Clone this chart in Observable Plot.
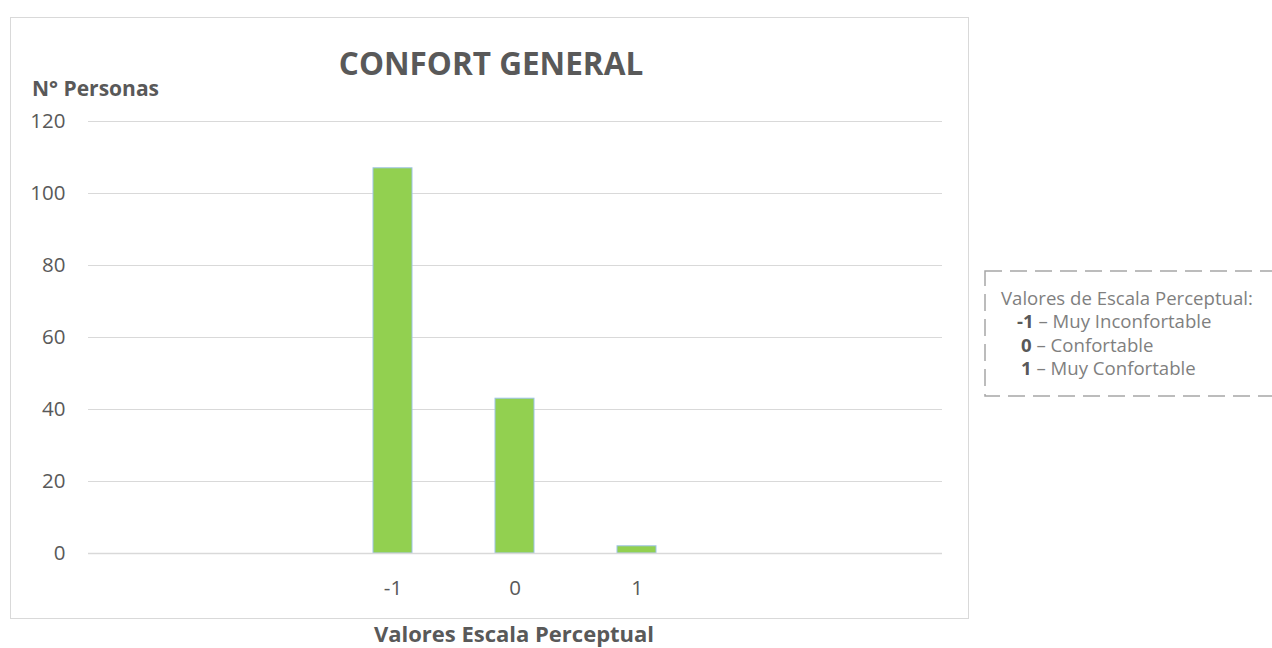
<!DOCTYPE html>
<html>
<head>
<meta charset="utf-8">
<script src="https://cdn.jsdelivr.net/npm/d3@7"></script>
<script src="https://cdn.jsdelivr.net/npm/@observablehq/plot@0.6"></script>
<style>
  html, body { margin: 0; padding: 0; background: #fff; }
  #wrap { position: relative; width: 1272px; height: 648px; overflow: hidden; font-family: "Open Sans", sans-serif; color: #595959; }
  #chart { position: absolute; left: 0; top: 0; }
  .abs { position: absolute; white-space: nowrap; }
  #frame { position: absolute; left: 10px; top: 17px; width: 959px; height: 602px; border: 1.5px solid #d9d9d9; box-sizing: border-box; }
  #legendBox { position: absolute; left: 0; top: 0; }
</style>
</head>
<body>
<div id="wrap">
  <div id="frame"></div>
  <div id="chart"></div>
  <div class="abs" id="title" style="left:491px; top:41px; transform:translateX(-50%); font-size:31.5px; font-weight:700;">CONFORT GENERAL</div>
  <div class="abs" id="ylab" style="left:32px; top:74px; font-size:21px; font-weight:700;">N° Personas</div>
  <div class="abs" id="xlab" style="left:514px; top:619px; transform:translateX(-50%); font-size:22px; font-weight:700; line-height:1.36;">Valores Escala Perceptual</div>
  <svg id="legendBox" width="1272" height="648"><rect x="985" y="271" width="320" height="125" fill="none" stroke="#a6a6a6" stroke-width="1.5" stroke-dasharray="17 8"></rect></svg>
  <div class="abs" id="legtext" style="left:1001px; top:286px; font-size:18.6px; line-height:23.3px; color:#7f7f7f;"></div>
</div>
<script>
// Data
const axisCategories = ["-3", "-2", "-1", "0", "1", "2", "3"];
const labeledCategories = ["-1", "0", "1"];
const categories = ["-1", "0", "1"];
const counts = [107, 43, 2];
const yTicks = [0, 20, 40, 60, 80, 100, 120];
const legendTitle = "Valores de Escala Perceptual:";
const legendKeys = ["-1", "0", "1"];
const legendLabels = ["Muy Inconfortable", "Confortable", "Muy Confortable"];

const data = categories.map((c, i) => ({cat: c, n: counts[i]}));

const chart = Plot.plot({
  width: 1272,
  height: 648,
  marginLeft: 88,
  marginRight: 330,
  marginTop: 121,
  marginBottom: 95,
  style: {fontFamily: "Open Sans, sans-serif", color: "#595959", background: "transparent"},
  x: {domain: axisCategories, paddingInner: 0.68, paddingOuter: 0.34, align: 0.5, label: null},
  y: {domain: [0, 120], ticks: yTicks, label: null},
  marks: [
    Plot.gridY(yTicks, {stroke: "#d9d9d9", strokeOpacity: 1, strokeWidth: 1}),
    Plot.barY(data, {x: "cat", y: "n", fill: "#92d050", stroke: "#9dc3e6", strokeWidth: 1}),
    Plot.ruleY([0], {stroke: "#d9d9d9", strokeWidth: 1.5}),
    Plot.axisY(yTicks, {tickSize: 0, tickPadding: 23, fontSize: 20.5, fill: "#595959", label: null}),
    Plot.axisX(labeledCategories, {tickSize: 0, tickPadding: 27, fontSize: 20.5, fill: "#595959", label: null})
  ]
});
document.getElementById("chart").appendChild(chart);

const lt = document.getElementById("legtext");
let html = legendTitle + "<br>";
const pads = ["16px", "20px", "20px"];
legendKeys.forEach((k, i) => {
  html += `<span style="padding-left:${pads[i]}"><b style="color:#595959">${k}</b> – ${legendLabels[i]}</span><br>`;
});
lt.innerHTML = html;
</script>
</body>
</html>
